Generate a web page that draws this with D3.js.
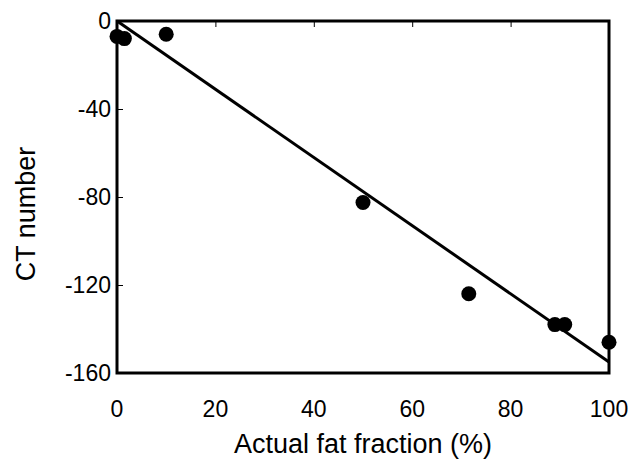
<!DOCTYPE html>
<html>
<head>
<meta charset="utf-8">
<script src="https://cdn.jsdelivr.net/npm/d3@7"></script>
<style>
    body { margin: 0; background: #fff; }
    text { font-family: "Liberation Sans", Arial, sans-serif; fill: #000; }
</style>
</head>
<body>
<div id="chart"></div>
<script>
// Measured points: actual fat fraction (%) vs CT number
const fatFraction = [0, 1.5, 10, 50, 71.5, 89, 91, 100];
const ctNumber = [-7, -8, -6, -82.5, -124, -138, -138, -146];

// Linear fit end points
const fitX = [0, 100];
const fitY = [0, -155];

const xTicks = [0, 20, 40, 60, 80, 100];
const yTicks = [0, -40, -80, -120, -160];

const width = 632;
const height = 462;
const margin = { top: 21, right: 23, bottom: 89, left: 117 };

const svg = d3.select("#chart")
    .append("svg")
    .attr("width", width)
    .attr("height", height);

const x = d3.scaleLinear().domain([0, 100]).range([margin.left, width - margin.right]);
const y = d3.scaleLinear().domain([-160, 0]).range([height - margin.bottom, margin.top]);

// Plot frame
svg.append("rect")
    .attr("x", x(0))
    .attr("y", y(0))
    .attr("width", x(100) - x(0))
    .attr("height", y(-160) - y(0))
    .attr("fill", "none")
    .attr("stroke", "#000")
    .attr("stroke-width", 3);

// x ticks hang down from the top (axis crosses at 0)
const xAxis = svg.append("g")
    .attr("transform", `translate(0,${y(0)})`)
    .call(d3.axisBottom(x).tickValues(xTicks).tickSize(6).tickFormat(""));
xAxis.select(".domain").remove();
xAxis.selectAll("line").attr("stroke-width", 1);

// x tick labels sit below the frame
svg.append("g")
    .selectAll("text")
    .data(xTicks)
    .enter()
    .append("text")
    .attr("x", (d) => x(d))
    .attr("y", y(-160) + 44)
    .attr("text-anchor", "middle")
    .style("font-size", "23px")
    .text((d) => d);

// y axis, ticks pointing inwards
const yAxis = svg.append("g")
    .attr("transform", `translate(${x(0)},0)`)
    .call(d3.axisRight(y).tickValues(yTicks).tickSize(6).tickFormat(""));
yAxis.select(".domain").remove();
yAxis.selectAll("line").attr("stroke-width", 1);

svg.append("g")
    .selectAll("text")
    .data(yTicks)
    .enter()
    .append("text")
    .attr("x", x(0) - 6)
    .attr("y", (d) => y(d))
    .attr("dy", "0.36em")
    .attr("text-anchor", "end")
    .style("font-size", "23px")
    .text((d) => d);

// Fit line
const fit = fitX.map((d, i) => [d, fitY[i]]);
svg.append("path")
    .datum(fit)
    .attr("d", d3.line().x((d) => x(d[0])).y((d) => y(d[1])))
    .attr("fill", "none")
    .attr("stroke", "#000")
    .attr("stroke-width", 3);

// Points
svg.append("g")
    .selectAll("circle")
    .data(fatFraction)
    .enter()
    .append("circle")
    .attr("cx", (d) => x(d))
    .attr("cy", (d, i) => y(ctNumber[i]))
    .attr("r", 7.5)
    .attr("fill", "#000");

// Axis titles
svg.append("text")
    .attr("x", (x(0) + x(100)) / 2)
    .attr("y", y(-160) + 80)
    .attr("text-anchor", "middle")
    .style("font-size", "27px")
    .text("Actual fat fraction (%)");

svg.append("text")
    .attr("transform", `translate(35,214) rotate(-90)`)
    .attr("text-anchor", "middle")
    .style("font-size", "27px")
    .text("CT number");
</script>
</body>
</html>
